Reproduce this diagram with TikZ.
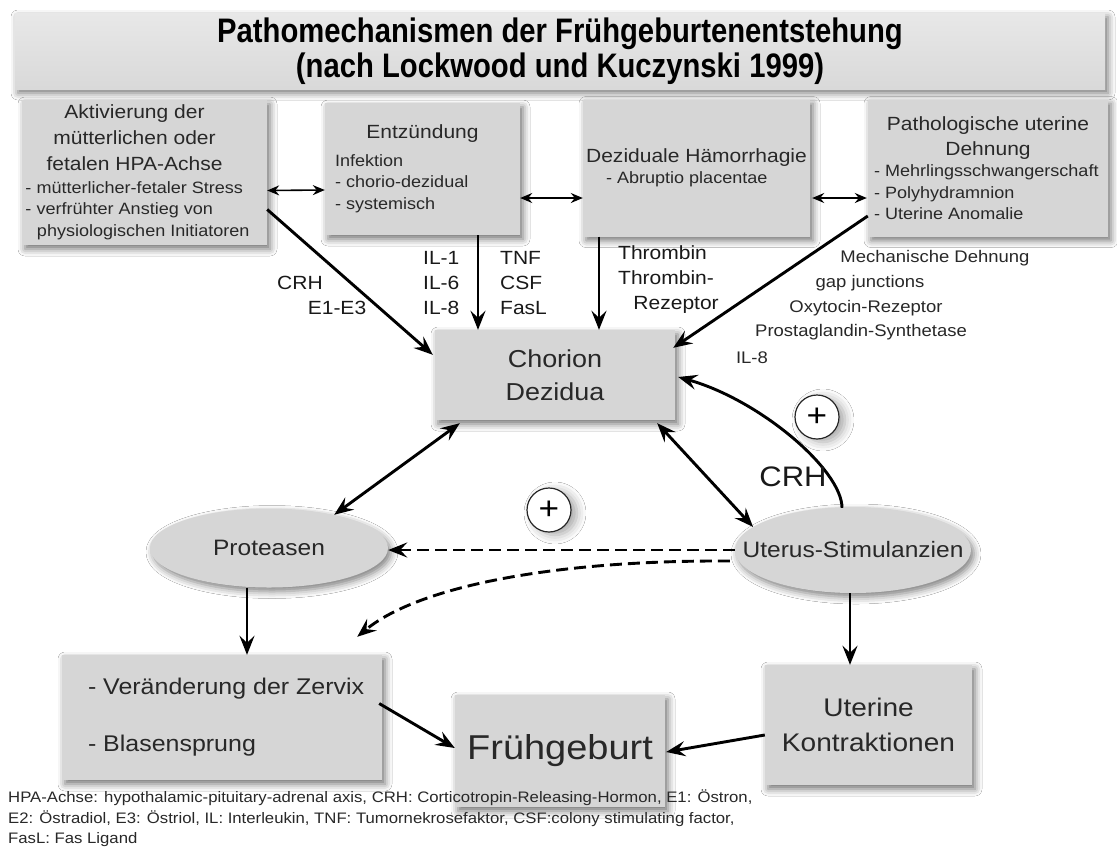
\documentclass[tikz,border=0pt]{standalone}
\usepackage{fontspec}
\setmainfont[FakeStretch=1.1]{Liberation Sans}
\newfontfamily\titlefont[FakeStretch=0.86]{Liberation Sans Bold}
\usetikzlibrary{arrows.meta,calc,shapes.geometric,shadows.blur}
\definecolor{boxgray}{RGB}{214,214,214}
\definecolor{txtgray}{RGB}{40,40,40}

\begin{document}
\begin{tikzpicture}[x=1pt,y=-1pt]
\tikzstyle{every node}+=[inner sep=0pt, text=txtgray]
\tikzstyle{box}=[rectangle, fill=boxgray, blur shadow={shadow xshift=3pt, shadow yshift=-4pt, shadow blur radius=7pt, shadow opacity=55}]
\tikzstyle{oval}=[ellipse, fill=boxgray, blur shadow={shadow xshift=3pt, shadow yshift=-4pt, shadow blur radius=7pt, shadow opacity=50}]
\tikzstyle{arr}=[line width=2.9pt, -{Stealth[length=19pt,width=15pt,inset=7pt]}]
\tikzstyle{twoway}=[line width=2.9pt, {Stealth[length=19pt,width=15pt,inset=7pt]}-{Stealth[length=19pt,width=15pt,inset=7pt]}]
\tikzstyle{dblthin}=[line width=1.6pt, {Stealth[length=12pt,width=10pt,inset=4pt]}-{Stealth[length=12pt,width=10pt,inset=4pt]}]
\tikzstyle{dasharr}=[line width=2.9pt, dash pattern=on 12pt off 6pt, -{Stealth[length=19pt,width=15pt,inset=7pt]}]
\tikzstyle{pluscirc}=[circle, draw=black!85, line width=1.2pt, minimum size=44pt, fill=white, text=black, font=\fontsize{32}{32}\selectfont, blur shadow={shadow xshift=6pt, shadow yshift=-3pt, shadow blur radius=9pt, shadow opacity=35}]
\tikzstyle{lbl}=[font=\fontsize{19.1}{25}\selectfont, text=black!90]
\tikzstyle{slbl}=[font=\fontsize{16.8}{22}\selectfont]
\fill[white] (0,0) rectangle (1117,847);
\useasboundingbox (0,0) rectangle (1117,847);
\node[box, top color=gray!18, bottom color=gray!30, minimum width=1090pt, minimum height=76pt, align=center, font=\titlefont\fontsize{34}{35}\selectfont, text=black] (title) at (560,51) {Pathomechanismen der Frühgeburtenentstehung\\(nach Lockwood und Kuczynski 1999)};
\node[box, minimum width=245pt, minimum height=145pt] (hpa) at (144.5,172.5) {\parbox{238pt}{\centering\rightskip=20pt plus 1fil\fontsize{19.1}{26}\selectfont Aktivierung der\\mütterlichen oder\\fetalen HPA-Achse\par\vspace{1pt}\raggedright\fontsize{16.4}{21.5}\selectfont - mütterlicher-fetaler Stress\\- verfrühter Anstieg von\\\hspace*{0.7em}physiologischen Initiatoren}};
\node[box, minimum width=195pt, minimum height=132pt] (infl) at (422.5,169) {\parbox{175pt}{\centering\fontsize{19.1}{26}\selectfont Entzündung\par\vspace{6pt}\raggedright\fontsize{16.4}{21.5}\selectfont Infektion\\- chorio-dezidual\\- systemisch}};
\node[box, minimum width=227pt, minimum height=137pt] (haem) at (696.5,168) {\parbox{225pt}{\centering\fontsize{19.1}{26}\selectfont Deziduale Hämorrhagie\par\raggedright\fontsize{16.4}{21.5}\selectfont\hspace*{22pt}- Abruptio placentae}};
\node[box, minimum width=240pt, minimum height=137pt] (dehn) at (988,168) {\parbox{228pt}{\centering\fontsize{19.1}{25}\selectfont Pathologische uterine\\Dehnung\par\raggedright\fontsize{16.4}{21.5}\selectfont - Mehrlingsschwangerschaft\\- Polyhydramnion\\- Uterine Anomalie}};
\node[box, minimum width=240pt, minimum height=90pt, align=center, font=\fontsize{24.5}{33}\selectfont] (chor) at (555,375) {Chorion\\Dezidua};
\node[oval, minimum width=238pt, minimum height=79pt, font=\fontsize{22.3}{28}\selectfont] (prot) at (269,548) {\makebox[0pt]{Proteasen}};
\node[oval, minimum width=236pt, minimum height=86pt, font=\fontsize{22.3}{28}\selectfont] (stim) at (853,550) {\makebox[0pt]{Uterus-Stimulanzien}};
\node[box, minimum width=320pt, minimum height=125pt, font=\fontsize{22.7}{57}\selectfont] (zerv) at (222,717.5) {\parbox{300pt}{\leftskip=16pt - Veränderung der Zervix\\- Blasensprung}};
\node[box, minimum width=210pt, minimum height=112pt, font=\fontsize{34.5}{40}\selectfont] (frueh) at (560,751) {Frühgeburt};
\node[box, minimum width=207pt, minimum height=120pt, align=center, font=\fontsize{25.5}{35}\selectfont] (kontr) at (868.5,725) {Uterine\\Kontraktionen};
\node[pluscirc] (plusa) at (817,417) {+};
\node[pluscirc] (plusb) at (549,510) {+};
\draw[dblthin] ($(hpa.east)+(0,18)$) -- ($(infl.west)+(0,21)$);
\draw[dblthin] ($(infl.east)+(0,29)$) -- ($(haem.west)+(0,30)$);
\draw[dblthin] ($(haem.east)+(2,30)$) -- ($(dehn.west)+(-1,30)$);
\draw[arr] ($(hpa.east)+(0,37)$) -- ($(chor.north west)+(-2,25)$);
\draw[arr] (infl.south -| 478,0) -- (chor.north -| 478,0);
\draw[arr] (haem.south -| 599,0) -- (chor.north -| 599,0);
\draw[arr] ($(dehn.west)+(0,48)$) -- ($(chor.north east)+(-2,18)$);
\draw[twoway] ($(chor.south west)+(25,3)$) -- (prot.27);
\draw[twoway] ($(chor.south east)+(-18,3)$) -- (stim.167);
\draw[arr] ($(stim.north)+(-11,1)$) .. controls (842,470) and (760,400) .. ($(chor.east)+(3,2)$);
\draw[dasharr] (stim.west) -- (stim.west -| prot.east);
\draw[dasharr] ($(stim.west)+(-5,11)$) .. controls (560,560) and (420,585) .. ($(zerv.north east)+(-25,-18)$);
\draw[arr] (prot.south -| 247,0) -- (zerv.north -| 247,0);
\draw[arr] (stim.south -| 850,0) -- (kontr.north -| 850,0);
\draw[arr] ($(zerv.east)+(-3,-14)$) -- ($(frueh.west)+(0,-3)$);
\draw[arr] ($(kontr.west)+(0,10)$) -- ($(frueh.east)+(1,1)$);
\node[lbl] (crh) at (300,283) {CRH};
\node[lbl] (estr) at (337,308) {E1-E3};
\node[lbl, anchor=west, align=left] (ils) at (423,283) {IL-1\\IL-6\\IL-8};
\node[lbl, anchor=west, align=left] (tnf) at (500,283) {TNF\\CSF\\FasL};
\node[lbl, anchor=west, align=left] (thromb) at (618,280) {Thrombin\\Thrombin-\\\hspace*{0.8em}Rezeptor};
\node[slbl] (mech) at (935,258) {Mechanische Dehnung};
\node[slbl] (gap) at (870,283) {gap junctions};
\node[slbl] (oxy) at (866,308) {Oxytocin-Rezeptor};
\node[slbl] (prost) at (861,332) {Prostaglandin-Synthetase};
\node[slbl] (ileight) at (752,358) {IL-8};
\node[font=\fontsize{28.2}{31}\selectfont, text=black!90] (crhb) at (793,477) {CRH};
\node[anchor=north west, align=left, font=\fontsize{15.2}{20.5}\selectfont] (note) at (8,790) {HPA-Achse: hypothalamic-pituitary-adrenal axis, CRH: Corticotropin-Releasing-Hormon, E1: Östron,\\E2: Östradiol, E3: Östriol, IL: Interleukin, TNF: Tumornekrosefaktor, CSF:colony stimulating factor,\\FasL: Fas Ligand};
\end{tikzpicture}
\end{document}
